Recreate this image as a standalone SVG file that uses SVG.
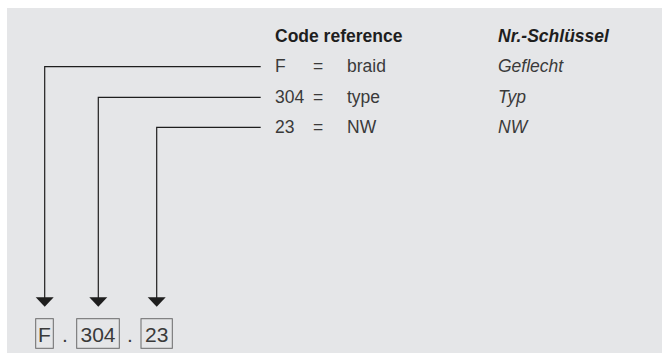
<svg xmlns="http://www.w3.org/2000/svg" width="662" height="355" viewBox="0 0 662 355">
<defs>
<style>
.t{font-family:"Liberation Sans",Arial,Helvetica,sans-serif;font-size:17.5px;fill:#3a3a3a}
.h{font-family:"Liberation Sans",Arial,Helvetica,sans-serif;font-size:17.5px;font-weight:bold;fill:#1e1e1e}
.i{font-style:italic}
.b{font-family:"Liberation Sans",Arial,Helvetica,sans-serif;font-size:21px;fill:#3a3a3a}
.box{fill:none;stroke:#6a6a6a;stroke-width:1}
.ln{fill:none;stroke:#1e1e1e;stroke-width:1.2}
.ah{fill:#1e1e1e}
</style>
</defs>
<rect x="7" y="8" width="655" height="345" fill="#e5e6e8"/>
<g id="legend">
<text class="h" x="275" y="42">Code reference</text>
<text class="h i" x="498" y="42">Nr.-Schlüssel</text>
<text class="t" x="275" y="72">F</text>
<text class="t" x="313" y="72">=</text>
<text class="t" x="347" y="72">braid</text>
<text class="t i" x="498" y="72">Geflecht</text>
<text class="t" x="275" y="102.5">304</text>
<text class="t" x="313" y="102.5">=</text>
<text class="t" x="347" y="102.5">type</text>
<text class="t i" x="498" y="102.5">Typ</text>
<text class="t" x="275" y="132.5">23</text>
<text class="t" x="313" y="132.5">=</text>
<text class="t" x="347" y="132.5">NW</text>
<text class="t i" x="498" y="132.5">NW</text>
</g>
<g id="connectors">
<polyline class="ln" points="260.7,66.7 44.7,66.7 44.7,298" stroke="#666"/>
<polygon class="ah" points="35.7,297.3 53.7,297.3 44.7,306.7"/>
<polyline class="ln" points="260.7,97.3 98.3,97.3 98.3,298"/>
<polygon class="ah" points="89.3,297.3 107.3,297.3 98.3,306.7"/>
<polyline class="ln" points="260.7,127.3 156.7,127.3 156.7,298"/>
<polygon class="ah" points="147.7,297.3 165.7,297.3 156.7,306.7"/>
</g>
<g id="code-F">
<rect class="box" x="35.7" y="318.7" width="17.6" height="29.6"/>
<text class="b" x="44.5" y="341.7" text-anchor="middle">F</text>
</g>
<text class="b" x="65" y="341.7" text-anchor="middle">.</text>
<g id="code-304">
<rect class="box" x="76.7" y="318.7" width="42.6" height="29.6"/>
<text class="b" x="98" y="341.7" text-anchor="middle">304</text>
</g>
<text class="b" x="130" y="341.7" text-anchor="middle">.</text>
<g id="code-23">
<rect class="box" x="141" y="318.7" width="31.3" height="29.6"/>
<text class="b" x="156.7" y="341.7" text-anchor="middle">23</text>
</g>
</svg>
